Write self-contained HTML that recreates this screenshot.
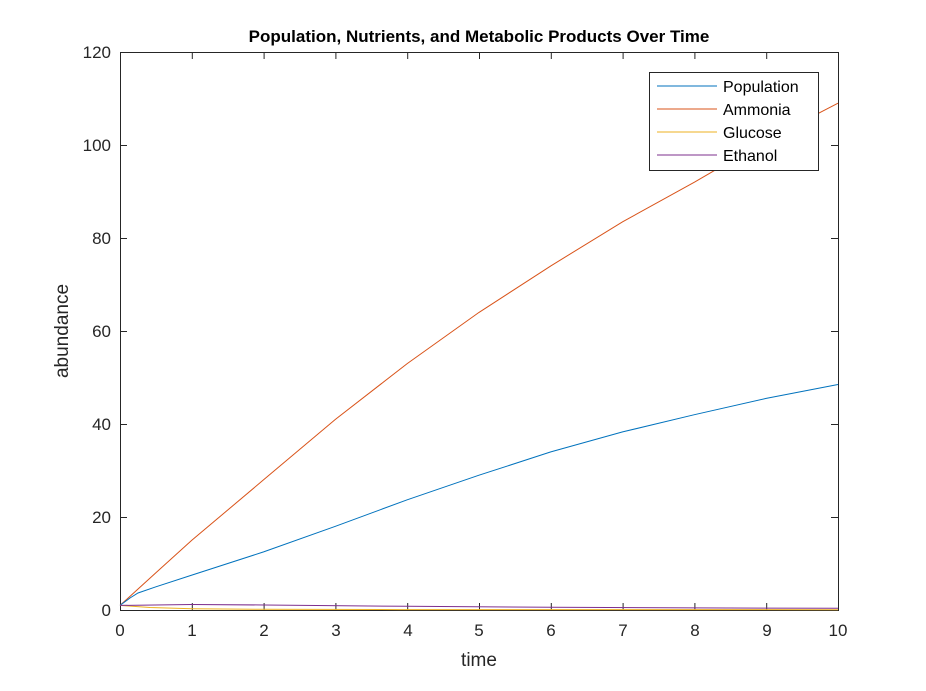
<!DOCTYPE html>
<html><head><style>body{margin:0;background:#fff}svg text{font-family:"Liberation Sans",sans-serif}</style></head><body>
<svg width="926" height="686" viewBox="0 0 926 686" xmlns="http://www.w3.org/2000/svg">
<rect width="926" height="686" fill="#fff"/>
<text x="479" y="42" font-size="17" font-weight="bold" text-anchor="middle" fill="#000">Population, Nutrients, and Metabolic Products Over Time</text>
<g stroke="#262626" stroke-width="1" fill="none">
<rect x="120.5" y="52.5" width="718" height="558"/>
</g>
<g stroke="#262626" stroke-width="1">
<path d="M120.5 610v-7M192.3 610v-7M264.1 610v-7M335.9 610v-7M407.7 610v-7M479.5 610v-7M551.3 610v-7M623.1 610v-7M694.9 610v-7M766.7 610v-7M838.5 610v-7
M120.5 52v7M192.3 52v7M264.1 52v7M335.9 52v7M407.7 52v7M479.5 52v7M551.3 52v7M623.1 52v7M694.9 52v7M766.7 52v7
M120 610.5h7M120 517.5h7M120 424.5h7M120 331.5h7M120 238.5h7M120 145.5h7M120 52.5h7
M838 517.5h-7M838 424.5h-7M838 331.5h-7M838 238.5h-7M838 145.5h-7"/>
</g>
<g font-size="17" fill="#262626" text-anchor="middle">
<text x="120" y="636">0</text><text x="192" y="636">1</text><text x="264" y="636">2</text><text x="336" y="636">3</text><text x="408" y="636">4</text><text x="479" y="636">5</text><text x="551" y="636">6</text><text x="623" y="636">7</text><text x="695" y="636">8</text><text x="767" y="636">9</text><text x="838" y="636">10</text>
</g>
<g font-size="17" fill="#262626" text-anchor="end">
<text x="111" y="616">0</text><text x="111" y="523">20</text><text x="111" y="430">40</text><text x="111" y="337">60</text><text x="111" y="244">80</text><text x="111" y="151">100</text><text x="111" y="58">120</text>
</g>
<text x="479" y="666" font-size="19" fill="#262626" text-anchor="middle">time</text>
<text transform="translate(68 331) rotate(-90)" font-size="19" fill="#262626" text-anchor="middle">abundance</text>
<g fill="none" stroke-width="1">
<polyline stroke="#D95319" points="120,605.4 155.9,572.8 191.8,540.3 263.6,479.8 335.4,419.4 407.2,363.6 479,312.4 550.8,265.9 622.6,221.8 694.4,182.2 766.2,140.4 838,103.2"/>
<polyline stroke="#0072BD" points="120,605.4 130,598 138,593 155.9,586.8 191.8,575.1 263.6,551.9 335.4,526.3 407.2,499.8 479,475.2 550.8,451.9 622.6,431.9 694.4,414.7 766.2,398.4 838,384.5"/>
<polyline stroke="#EDB120" points="120,605.4 150,607.5 192,608.7 264,609.3 400,609.6 838,609.7"/>
<polyline stroke="#7E2F8E" points="120,605.4 192,604.5 264,605 407,606.3 551,607.3 694,607.9 838,608.3"/>
</g>
<rect x="649.5" y="72.5" width="169" height="98" fill="#fff" stroke="#262626"/>
<g stroke-width="1">
<line x1="657" y1="86" x2="717" y2="86" stroke="#0072BD"/>
<line x1="657" y1="109" x2="717" y2="109" stroke="#D95319"/>
<line x1="657" y1="132" x2="717" y2="132" stroke="#EDB120"/>
<line x1="657" y1="155" x2="717" y2="155" stroke="#7E2F8E"/>
</g>
<g font-size="16" fill="#000">
<text x="723" y="92">Population</text><text x="723" y="115">Ammonia</text><text x="723" y="138">Glucose</text><text x="723" y="161">Ethanol</text>
</g>
</svg>
</body></html>
